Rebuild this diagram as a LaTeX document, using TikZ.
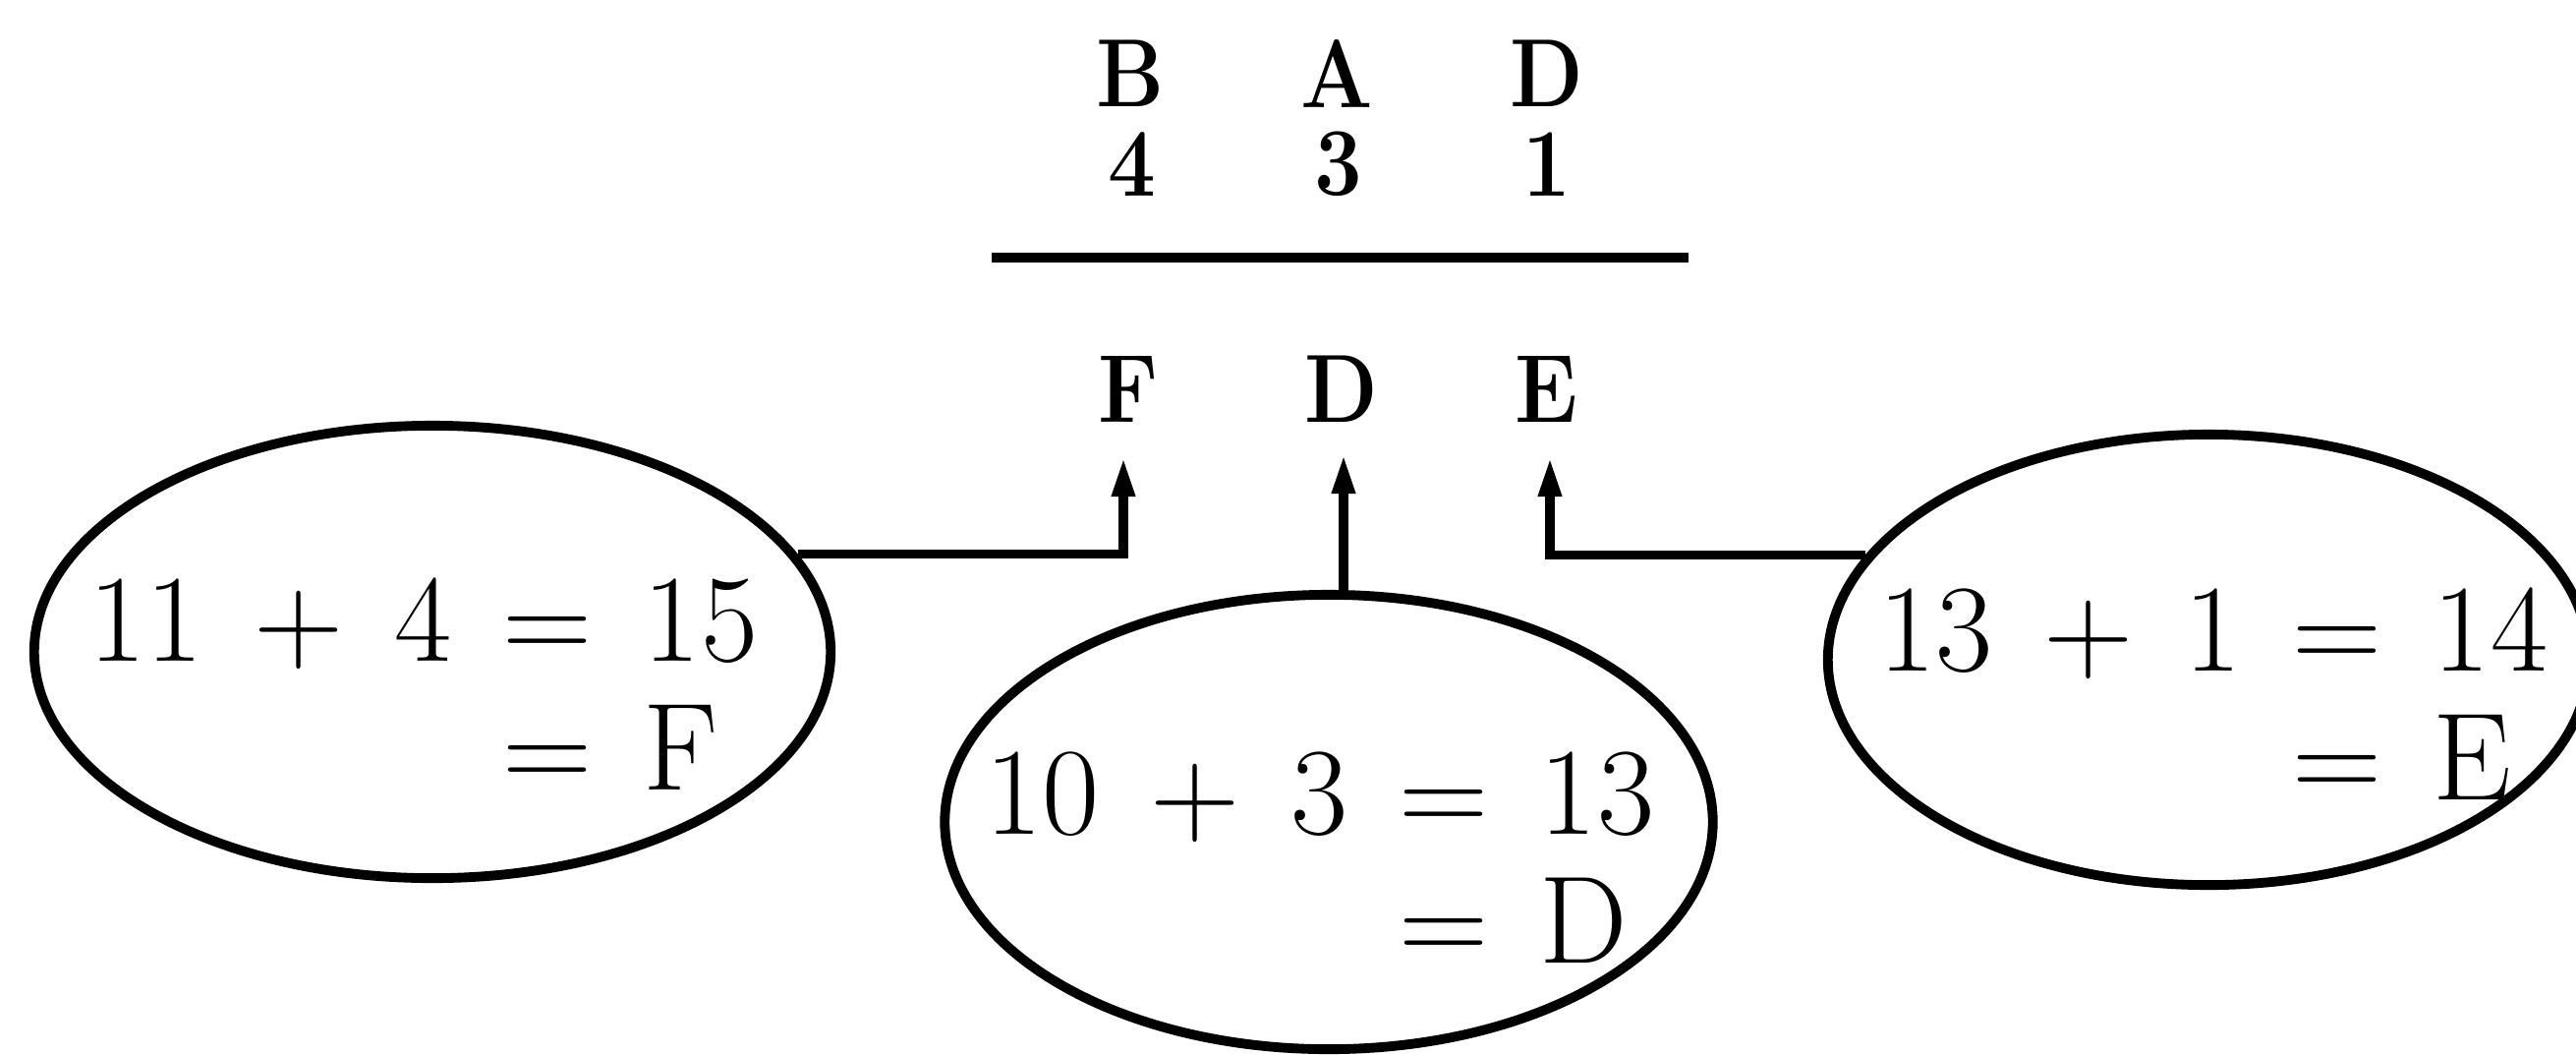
\documentclass[tikz,border=0pt]{standalone}
\usetikzlibrary{shapes.geometric,arrows.meta}
\newcommand{\gp}{\hspace{0.41em}}
\newcommand{\narrow}[1]{\scalebox{0.88}[1]{#1}}
\begin{document}
\begin{tikzpicture}[x=0.01cm,y=-0.01cm,
  bubble/.style={draw, ellipse, line width=2.8pt, inner sep=0pt},
  eqtext/.style={font=\fontsize{36}{37.5}\selectfont, inner sep=0pt, anchor=base west},
  letter/.style={font=\fontsize{28}{32}\selectfont\bfseries, inner sep=0pt},
  conn/.style={line width=2.6pt, -{Triangle[length=0.4cm,width=0.22cm]}},
  rule/.style={line width=2.8pt}]
\useasboundingbox (0,0) rectangle (2621,1072);
% top letters
\node[letter] (b1) at (1150,75) {\narrow{B}};
\node[letter] (a1) at (1360,75) {\narrow{A}};
\node[letter] (d1) at (1574,75) {\narrow{D}};
\node[letter] (n4) at (1152,167) {\narrow{4}};
\node[letter] (n3) at (1362,167) {\narrow{3}};
\node[letter] (n1) at (1574,167) {\narrow{1}};
\coordinate (rl) at (1009,262);
\coordinate (rr) at (1718,262);
\draw[rule] (rl) -- (rr);
\node[letter] (f2) at (1148,396) {\narrow{F}};
\node[letter] (d2) at (1365,396) {\narrow{D}};
\node[letter] (e2) at (1573,396) {\narrow{E}};
\coordinate (tF) at (1143,465);
\coordinate (tD) at (1367,462);
\coordinate (tE) at (1577,465);
% ellipses
\node[bubble, minimum width=8.10cm, minimum height=4.60cm] (L) at (440,663) {};
\node[bubble, minimum width=7.81cm, minimum height=4.62cm] (M) at (1352,836) {};
\node[bubble, minimum width=7.74cm, minimum height=4.58cm] (R) at (2247,671) {};
\node[eqtext] (Lt) at (90,672) {\begin{tabular}[t]{@{}r@{\gp}l@{}}11\gp+\gp4 & =\gp15\\ & =\gp F\end{tabular}};
\node[eqtext] (Mt) at (1002,848) {\begin{tabular}[t]{@{}r@{\gp}l@{}}10\gp+\gp3 & =\gp13\\ & =\gp D\end{tabular}};
\node[eqtext] (Rt) at (1911,682) {\begin{tabular}[t]{@{}r@{\gp}l@{}}13\gp+\gp1 & =\gp14\\ & =\gp E\end{tabular}};
% connectors
\draw[conn] (L.15.6) -| (tF);
\draw[conn] (M.north -| tD) -- (tD);
\draw[conn] (R.163.5) -| (tE);
\end{tikzpicture}
\end{document}
